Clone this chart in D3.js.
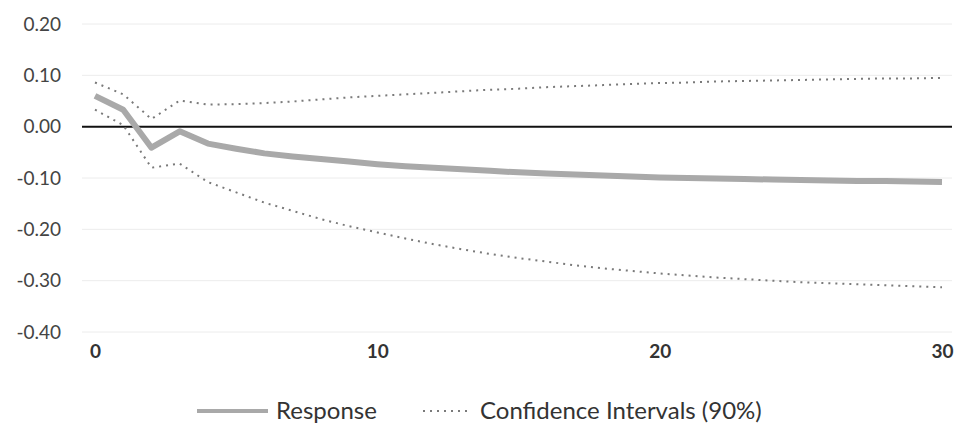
<!DOCTYPE html>
<html>
<head>
<meta charset="utf-8">
<script src="https://cdn.jsdelivr.net/npm/d3@7"></script>
<style>
  body { margin: 0; background: #fff; }
  text { font-family: Lato, "Open Sans", sans-serif; }
</style>
</head>
<body>
<svg id="chart" width="955" height="428"></svg>
<script>
// impulse response, 31 periods
const periods = d3.range(0, 31);
const response = [0.060, 0.033, -0.041, -0.009, -0.033, -0.043, -0.052, -0.058, -0.063, -0.068,
                  -0.073, -0.077, -0.080, -0.083, -0.086, -0.089, -0.091, -0.093, -0.095, -0.097,
                  -0.099, -0.100, -0.101, -0.102, -0.103, -0.104, -0.105, -0.106, -0.106, -0.107, -0.108];
const upper = [0.086, 0.063, 0.015, 0.051, 0.043, 0.044, 0.046, 0.049, 0.053, 0.057,
               0.060, 0.063, 0.066, 0.069, 0.072, 0.074, 0.077, 0.079, 0.081, 0.083,
               0.085, 0.086, 0.088, 0.089, 0.090, 0.091, 0.092, 0.093, 0.094, 0.094, 0.095];
const lower = [0.033, 0.003, -0.080, -0.072, -0.108, -0.128, -0.148, -0.164, -0.180, -0.194,
               -0.206, -0.218, -0.229, -0.239, -0.248, -0.256, -0.263, -0.270, -0.276, -0.281,
               -0.286, -0.290, -0.294, -0.297, -0.300, -0.303, -0.305, -0.307, -0.309, -0.311, -0.313];
const yTicks = [0.2, 0.1, 0, -0.1, -0.2, -0.3, -0.4];
const xTicks = [0, 10, 20, 30];
const legendLabels = ['Response', 'Confidence Intervals (90%)'];

const svg = d3.select('#chart');

let x = d3.scaleLinear().domain([0, 30]).range([95, 942]);
let y = d3.scaleLinear().domain([-0.4, 0.2]).range([332, 24]);

// gridlines
svg.append('g')
    .selectAll('line')
    .data(yTicks.filter(d => d !== 0))
    .enter()
        .append('line')
        .attr('x1', 82).attr('x2', 952)
        .attr('y1', d => y(d)).attr('y2', d => y(d))
        .attr('stroke', '#ececec')
        .attr('stroke-width', 1);

// y labels (plain hyphen, like the original)
let yAxis = d3.axisLeft(y).tickValues(yTicks)
    .tickFormat(d => d3.format('.2f')(d).replace('\u2212', '-'))
    .tickSize(0).tickPadding(0);
let yG = svg.append('g')
    .attr('transform', 'translate(61, 0)')
    .call(yAxis);
yG.select('.domain').remove();
yG.selectAll('text')
    .attr('fill', '#444')
    .style('font-size', '19px');

// x labels
let xAxis = d3.axisBottom(x).tickValues(xTicks).tickFormat(d3.format('d')).tickSize(0).tickPadding(0);
let xG = svg.append('g')
    .attr('transform', 'translate(0, 344)')
    .call(xAxis);
xG.select('.domain').remove();
xG.selectAll('text')
    .attr('fill', '#333')
    .style('font-size', '19px')
    .style('font-weight', 'bold');

// zero line
svg.append('line')
    .attr('x1', 82).attr('x2', 952)
    .attr('y1', y(0)).attr('y2', y(0))
    .attr('stroke', '#111')
    .attr('stroke-width', 2);

let line = d3.line()
    .x((d, i) => x(periods[i]))
    .y(d => y(d));

[upper, lower].forEach(s => {
    svg.append('path')
        .datum(s)
        .attr('fill', 'none')
        .attr('stroke', '#7a7a7a')
        .attr('stroke-width', 2)
        .attr('stroke-dasharray', '2,5')
        .attr('d', line);
});

svg.append('path')
    .datum(response)
    .attr('fill', 'none')
    .attr('stroke', '#a9a9a9')
    .attr('stroke-width', 6)
    .attr('stroke-linejoin', 'round')
    .attr('d', line);

// legend
let legend = svg.append('g');
legend.append('line')
    .attr('x1', 197).attr('x2', 268)
    .attr('y1', 411).attr('y2', 411)
    .attr('stroke', '#a9a9a9')
    .attr('stroke-width', 4);
legend.append('text')
    .attr('x', 276).attr('y', 419)
    .text(legendLabels[0])
    .attr('fill', '#333')
    .style('font-size', '24px');
legend.append('line')
    .attr('x1', 423).attr('x2', 472)
    .attr('y1', 411).attr('y2', 411)
    .attr('stroke', '#7a7a7a')
    .attr('stroke-width', 2)
    .attr('stroke-dasharray', '2,5');
legend.append('text')
    .attr('x', 480).attr('y', 419)
    .text(legendLabels[1])
    .attr('fill', '#333')
    .style('font-size', '24px');
</script>
</body>
</html>
